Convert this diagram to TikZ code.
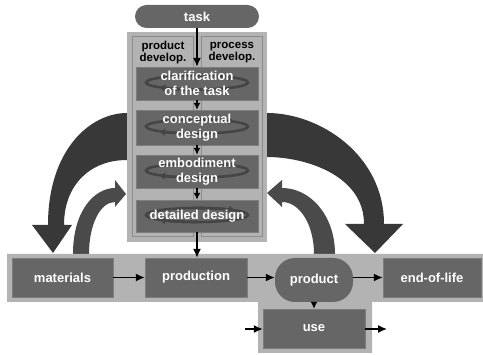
\documentclass[tikz,border=0pt]{standalone}
\usepackage{fontspec}
\setmainfont{Liberation Sans}
\usepackage{tikz}
\usetikzlibrary{arrows.meta}

\definecolor{bandgray}{HTML}{B3B3B3}
\definecolor{boxgray}{HTML}{666666}
\definecolor{colline}{HTML}{8C8C8C}
\definecolor{bigdark}{HTML}{383838}
\definecolor{smalldark}{HTML}{4A4A4A}
\definecolor{ringdark}{HTML}{454545}

\begin{document}
\begin{tikzpicture}[x=1pt,y=1pt,every node/.style={inner sep=0pt,align=center,text=white,font=\bfseries\fontsize{13}{15}\selectfont},
	stagebox/.style={fill=boxgray,draw=boxgray!85!white,minimum width=122pt,minimum height=33pt},
	flowbox/.style={fill=boxgray,draw=boxgray!85!white,minimum width=101pt,minimum height=39pt},
	pill/.style={fill=boxgray,rounded corners=#1},
	collabel/.style={text=black,font=\bfseries\fontsize{11.5}{12}\selectfont},
	ring/.style={draw=ringdark,line width=2.6pt},
	flow/.style={-{Latex[length=9pt,width=8pt]},line width=1.4pt},
	shortflow/.style={-{Latex[length=7pt,width=7pt]},line width=1.4pt}]
	
	\useasboundingbox (0,0) rectangle (483,-355);
	
	\fill[bigdark] (127,-113) .. controls (90,-113) and (48,-150) .. (48,-225) -- (32,-225) -- (53,-253) -- (72,-225) -- (64,-225) .. controls (64,-185) and (90,-160) .. (127,-160) -- cycle;
	\fill[bigdark] (267,-113) .. controls (320,-113) and (384,-155) .. (384,-224) -- (403,-224) -- (375,-253) -- (345,-224) -- (364,-224) .. controls (364,-175) and (305,-157) .. (267,-157) -- cycle;
	\fill[smalldark] (73,-254) .. controls (73,-210) and (95,-188) .. (115,-188) -- (115,-180) -- (126,-194) -- (115,-207) -- (115,-202) .. controls (100,-202) and (89,-225) .. (89,-254) -- cycle;
	\fill[smalldark] (335,-254) .. controls (335,-215) and (310,-188) .. (282,-188) -- (282,-180) -- (267,-193) -- (282,-207) -- (282,-202) .. controls (300,-202) and (314,-225) .. (314,-254) -- cycle;
	
	\fill[bandgray] (127,-32) rectangle (267,-242);
	\draw[colline,fill=bandgray,line width=1pt] (132,-37) rectangle (193,-237);
	\draw[colline,fill=bandgray,line width=1pt] (201,-37) rectangle (262,-237);
	\fill[bandgray] (7,-254) -- (483,-254) -- (483,-302) -- (372,-302) -- (372,-353) -- (258,-353) -- (258,-302) -- (7,-302) -- cycle;
	
	\node[pill=11.5pt,minimum width=124pt,minimum height=23pt] (task) at (197,-16.5) {task};
	\node[collabel] (pdev) at (163,-53) {product\\develop.};
	\node[collabel] (cdev) at (232,-53) {process\\develop.};
	
	\node[stagebox] (s1) at (197,-83.5) {};
	\node[stagebox,minimum height=35pt] (s2) at (197,-127.5) {};
	\node[stagebox] (s3) at (197,-171.5) {};
	\node[stagebox,minimum height=32pt] (s4) at (197,-216) {};
	
	\foreach \s in {s1,s2,s3,s4} {
		\draw[ring] ([yshift=1pt]\s.center) ellipse [x radius=51pt,y radius=7pt];
		\draw[ring,-{Latex[length=6pt,width=8pt]}] ([yshift=-6pt]\s.center) arc[start angle=270,end angle=222,x radius=51pt,y radius=7pt];
		\draw[ring,-{Latex[length=6pt,width=8pt]}] ([yshift=8pt]\s.center) arc[start angle=90,end angle=42,x radius=51pt,y radius=7pt];
	}
	
	\node (t1) at (s1) {clarification\\of the task};
	\node (t2) at (s2) {conceptual\\design};
	\node (t3) at (s3) {embodiment\\design};
	\node (t4) at (s4) {detailed design};
	
	\node[flowbox] (materials) at (62.5,-277.5) {materials};
	\node[flowbox,minimum width=102pt] (production) at (196,-277.5) {production};
	\node[pill=20pt,minimum width=78pt,minimum height=44pt] (product) at (314,-280) {product};
	\node[flowbox,minimum width=98pt] (eol) at (432,-277.5) {end-of-life};
	\node[flowbox,minimum width=102pt] (use) at (314,-328.5) {use};
	\coordinate (usein) at (245,-329);
	\coordinate (useout) at (387,-329);
	
	\draw[flow] (task.south) -- (s1.north);
	\draw[shortflow] (s1) -- (s2);
	\draw[shortflow] (s2) -- (s3);
	\draw[shortflow] (s3) -- (s4);
	\draw[flow] (s4.south) -- (s4.south |- production.north);
	\draw[flow] (materials) -- (production);
	\draw[flow] (production.east) -- (production.east -| product.west);
	\draw[flow] (product.east |- eol.west) -- (eol.west);
	\draw[shortflow] (product) -- (use);
	\draw[flow] (usein) -- (use.west |- usein);
	\draw[flow] (use.east |- useout) -- (useout);
	
\end{tikzpicture}
\end{document}
